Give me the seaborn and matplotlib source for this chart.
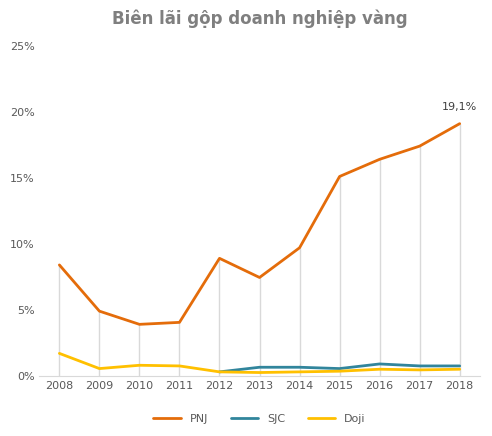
import numpy as np
import pandas as pd
import matplotlib
matplotlib.use("Agg")
import matplotlib.pyplot as plt
import seaborn as sns

years = [2008, 2009, 2010, 2011, 2012, 2013, 2014, 2015, 2016, 2017, 2018]
pnj = [8.4, 4.9, 3.9, 4.05, 8.9, 7.45, 9.7, 15.1, 16.4, 17.4, 19.1]
sjc = [np.nan, np.nan, np.nan, np.nan, 0.3, 0.65, 0.65, 0.55, 0.9, 0.75, 0.75]
doji = [1.7, 0.55, 0.8, 0.75, 0.3, 0.25, 0.3, 0.35, 0.5, 0.45, 0.5]

sns.set_style("white")
plt.rcParams['font.family'] = ['DejaVu Sans']

df = pd.DataFrame({"year": years, "PNJ": pnj, "SJC": sjc, "Doji": doji})
long = df.melt(id_vars="year", var_name="series", value_name="value")

fig, ax = plt.subplots(figsize=(4.92, 4.36), dpi=100)
fig.subplots_adjust(left=0.08, right=0.975, top=0.895, bottom=0.138)

ax.vlines(df["year"], 0, df["PNJ"], color="#d9d9d9", lw=1, zorder=1)
sns.lineplot(data=long, x="year", y="value", hue="series",
             palette={"PNJ": "#e46c0a", "SJC": "#31859c", "Doji": "#ffc000"},
             lw=2, ax=ax, zorder=3)

ax.set_ylim(0, 25)
ax.set_xlim(2007.5, 2018.5)
ax.set_xticks(years)
ax.set_yticks(range(0, 26, 5))
ax.set_yticklabels([f"{v}%" for v in range(0, 26, 5)])
ax.tick_params(labelsize=8, colors="#595959", length=0)
ax.set_xlabel("")
ax.set_ylabel("")
for s in ["top", "right", "left"]:
    ax.spines[s].set_visible(False)
ax.spines["bottom"].set_color("#d9d9d9")

ax.annotate("19,1%", (2018, 19.1), xytext=(0, 10), textcoords="offset points",
            ha="center", fontsize=8, color="#404040")
ax.set_title("Biên lãi gộp doanh nghiệp vàng", fontsize=12, fontweight="bold",
             color="#7f7f7f", pad=16)
ax.legend(loc="upper center", bbox_to_anchor=(0.5, -0.085), ncol=3, frameon=False,
          fontsize=8, handlelength=2.5, labelcolor="#595959")

fig.savefig("out.png", dpi=100)
